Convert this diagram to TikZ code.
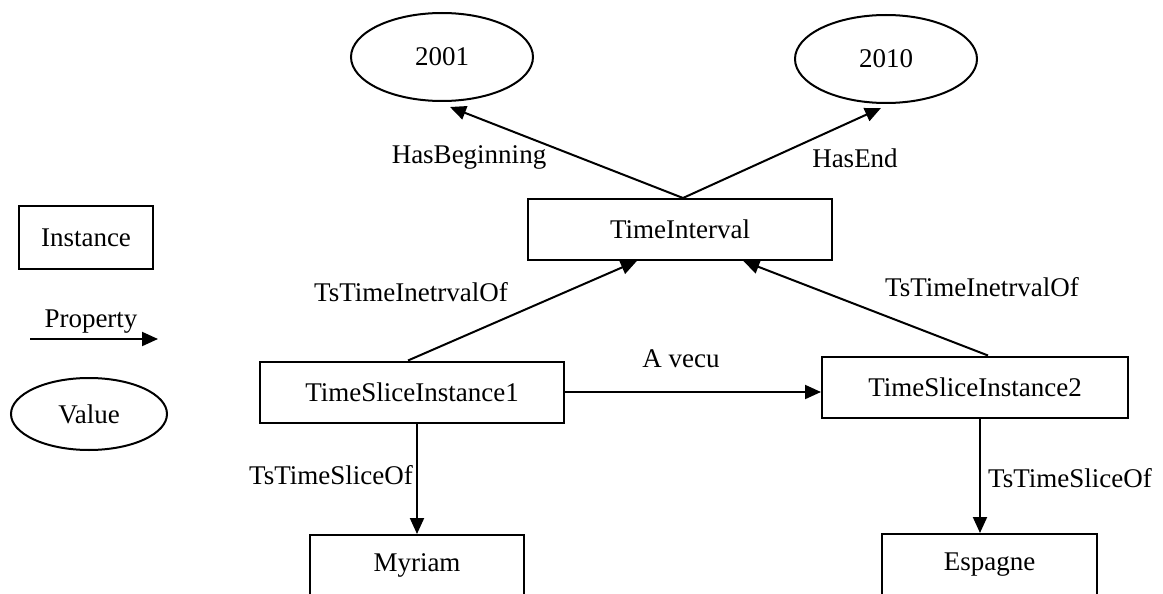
\documentclass[tikz,border=0pt]{standalone}
\usepackage{fontspec}
\setmainfont{Liberation Serif}
\usetikzlibrary{shapes.geometric,arrows.meta,calc}
\tikzset{
  base/.style={font=\fontsize{27}{31}\selectfont, inner sep=0pt},
  inst/.style={base, draw, line width=2pt, rectangle, minimum width=304pt, minimum height=61pt},
  cutinst/.style={base, draw, line width=2pt, rectangle, anchor=north, text height=36pt, text depth=60pt},
  val/.style={base, draw, line width=2pt, ellipse, minimum width=182pt, minimum height=88pt},
  lbl/.style={base},
  prop/.style={line width=2pt, -{Triangle[length=16pt,width=14pt]}}
}
\begin{document}
\begin{tikzpicture}[x=1pt,y=-1pt]
\useasboundingbox (0,0) rectangle (1163,594);
\clip (0,0) rectangle (1163,594);
% legend
\node[inst, minimum width=134pt, minimum height=63pt] (leginst) at (86,237.5) {Instance};
\coordinate (legA) at (30,339);
\coordinate (legB) at (158,339);
\draw[prop] (legA) -- (legB);
\node[lbl] (legprop) at (91,322) {Property};
\node[val, minimum width=156pt, minimum height=72pt] (legval) at (89,414) {Value};
% values
\node[val] (v2001) at (442,57) {2001};
\node[val] (v2010) at (886,59) {2010};
% instances
\node[inst] (ti) at (680,229.5) {TimeInterval};
\node[inst] (tsi1) at (412,392) {TimeSliceInstance1};
\node[inst, minimum width=306pt] (tsi2) at (975,387) {TimeSliceInstance2};
\node[cutinst, minimum width=214pt] (myr) at (417,534) {Myriam};
\node[cutinst, minimum width=215pt] (esp) at (989.5,533) {Espagne};
% connectors
\draw[prop] ($(ti.north)+(3,0)$) -- ($(v2001.south)+(8,5)$);
\draw[prop] ($(ti.north)+(3,0)$) -- ($(v2010.south)+(-5,4)$);
\draw[prop] ($(tsi1.north)+(-4,0)$) -- ($(ti.south west)!0.359!(ti.south east)$);
\draw[prop] ($(tsi2.north)+(13,0)$) -- ($(ti.south west)!0.707!(ti.south east)$);
\draw[prop] (tsi1.east) -- (tsi1.east -| tsi2.west);
\draw[prop] (myr.north |- tsi1.south) -- (myr.north);
\draw[prop] ($(tsi2.south)+(5,0)$) -- ($(esp.north)+(-9.5,0)$);
% labels
\node[lbl] (lhb) at (469,157) {HasBeginning};
\node[lbl] (lhe) at (855,158) {HasEnd};
\node[lbl] (lti1) at (411,292) {TsTimeInetrvalOf};
\node[lbl] (lti2) at (982,287) {TsTimeInetrvalOf};
\node[lbl] (lav) at (681,359) {A vecu};
\node[lbl] (lts1) at (331,475) {TsTimeSliceOf};
\node[lbl] (lts2) at (1070,478) {TsTimeSliceOf};
\end{tikzpicture}
\end{document}
